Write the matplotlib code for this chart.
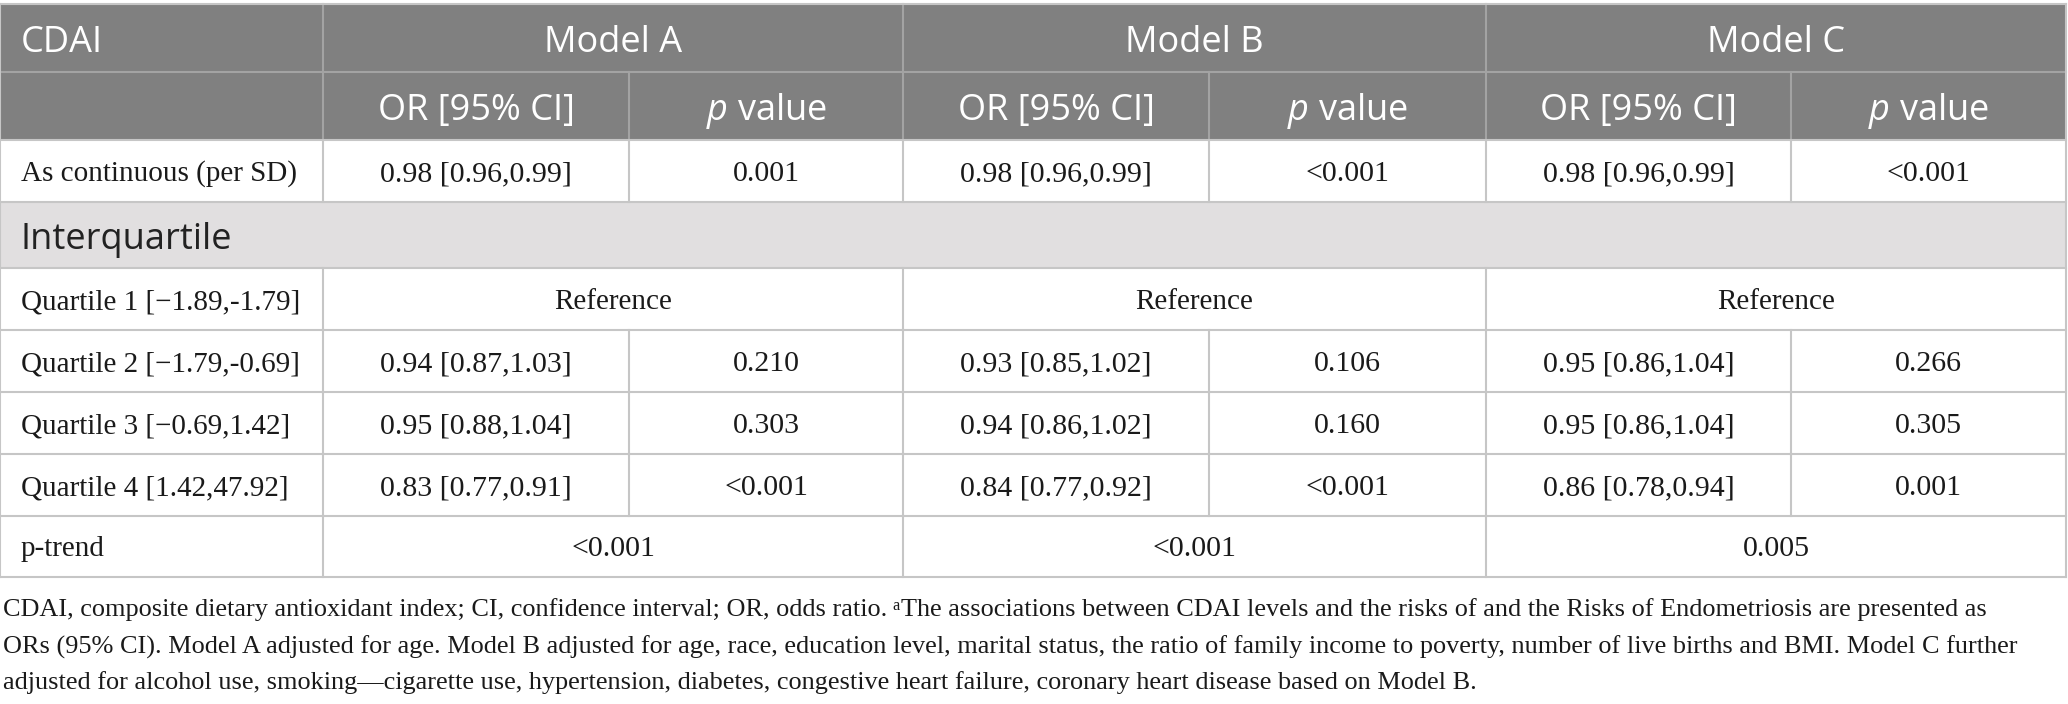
import matplotlib
matplotlib.use("Agg")
import matplotlib.pyplot as plt
from matplotlib.patches import Rectangle

# ---- table content ----
models = ["Model A", "Model B", "Model C"]
row_labels = [
    "As continuous (per SD)",
    "Quartile 1 [\u22121.89,-1.79]",
    "Quartile 2 [\u22121.79,-0.69]",
    "Quartile 3 [\u22120.69,1.42]",
    "Quartile 4 [1.42,47.92]",
]
or_a = ["0.98 [0.96,0.99]", "Reference", "0.94 [0.87,1.03]", "0.95 [0.88,1.04]", "0.83 [0.77,0.91]"]
p_a = ["0.001", None, "0.210", "0.303", "<0.001"]
or_b = ["0.98 [0.96,0.99]", "Reference", "0.93 [0.85,1.02]", "0.94 [0.86,1.02]", "0.84 [0.77,0.92]"]
p_b = ["<0.001", None, "0.106", "0.160", "<0.001"]
or_c = ["0.98 [0.96,0.99]", "Reference", "0.95 [0.86,1.04]", "0.95 [0.86,1.04]", "0.86 [0.78,0.94]"]
p_c = ["<0.001", None, "0.266", "0.305", "0.001"]
trend_label = "p-trend"
p_trend = ["<0.001", "<0.001", "0.005"]
section_label = "Interquartile"

foot1a = "CDAI, composite dietary antioxidant index; CI, confidence interval; OR, odds ratio."
foot1b = "The associations between CDAI levels and the risks of and the Risks of Endometriosis are presented as"
foot2 = ("ORs (95% CI). Model A adjusted for age. Model B adjusted for age, race, education level, marital status, "
         "the ratio of family income to poverty, number of live births and BMI. Model C further")
foot3 = ("adjusted for alcohol use, smoking\u2014cigarette use, hypertension, diabetes, congestive heart failure, "
         "coronary heart disease based on Model B.")

# ---- layout (pixels) ----
W, H = 2068, 704
col_x = [0, 323, 629, 903, 1209, 1486, 1791, 2066]
row_y = [4, 72, 140, 202, 268, 330, 392, 454, 516, 577]
foot_y = [610, 647, 683]

head_bg = "#808080"
head_line = "#a3a3a3"
sect_bg = "#e1dfe0"
grid = "#c6c6c6"
ink = "#1a1a1a"
sans = "Open Sans"
serif = "Liberation Serif"
hs = 26     # header size
ls = 21     # row label size
ns = 21.5   # number size
dy_sans = 5
dy_serif = 3

plt.rcParams["mathtext.fontset"] = "custom"
plt.rcParams["mathtext.rm"] = sans
plt.rcParams["mathtext.it"] = sans + ":italic"

fig = plt.figure(figsize=(W / 100, H / 100), dpi=100)
ax = fig.add_axes([0, 0, 1, 1])
ax.set_xlim(0, W)
ax.set_ylim(H, 0)
ax.axis("off")

lw = 1.5

# header backgrounds
ax.add_patch(Rectangle((0, row_y[0]), col_x[-1], row_y[2] - row_y[0], color=head_bg, lw=0))
ax.add_patch(Rectangle((0, row_y[3]), col_x[-1], row_y[4] - row_y[3], color=sect_bg, lw=0))

# header lines
ax.plot([0, col_x[-1]], [row_y[1], row_y[1]], color=head_line, lw=lw)
for x in [col_x[1], col_x[3], col_x[5]]:
    ax.plot([x, x], [row_y[0], row_y[2]], color=head_line, lw=lw)
for x in [col_x[2], col_x[4], col_x[6]]:
    ax.plot([x, x], [row_y[1], row_y[2]], color=head_line, lw=lw)

# body horizontal lines and border
for y in row_y[2:]:
    ax.plot([0, col_x[-1]], [y, y], color=grid, lw=lw)
ax.plot([0, col_x[-1]], [row_y[0], row_y[0]], color=grid, lw=lw)
ax.plot([0, 0], [row_y[0], row_y[-1]], color=grid, lw=lw)
ax.plot([col_x[-1], col_x[-1]], [row_y[0], row_y[-1]], color=grid, lw=lw)

# body vertical lines
body_rows = [(row_y[2], row_y[3])] + [(row_y[i], row_y[i + 1]) for i in range(4, 9)]
for k, (y0, y1) in enumerate(body_rows):
    spans = k in (1, 5)
    for j in range(1, 7):
        if spans and j in (2, 4, 6):
            continue
        ax.plot([col_x[j], col_x[j]], [y0, y1], color=grid, lw=lw)

def mid(a, b):
    return (a + b) / 2

# header text
yh1 = mid(row_y[0], row_y[1]) + dy_sans
yh2 = mid(row_y[1], row_y[2]) + dy_sans
ax.text(21, yh1, "CDAI", color="white", fontsize=hs, family=sans, ha="left", va="center")
for m, name in enumerate(models):
    ax.text(mid(col_x[1 + 2 * m], col_x[3 + 2 * m]), yh1, name,
            color="white", fontsize=hs, family=sans, ha="center", va="center")
    ax.text(mid(col_x[1 + 2 * m], col_x[2 + 2 * m]), yh2, "OR [95% CI]",
            color="white", fontsize=hs, family=sans, ha="center", va="center")
    ax.text(mid(col_x[2 + 2 * m], col_x[3 + 2 * m]), yh2, "$p$ value",
            color="white", fontsize=hs, family=sans, ha="center", va="center")

ax.text(21, mid(row_y[3], row_y[4]) + dy_sans, section_label, color="#222222", fontsize=hs,
        family=sans, ha="left", va="center")

# body text
cols = [(or_a, p_a), (or_b, p_b), (or_c, p_c)]
for i, label in enumerate(row_labels):
    y0, y1 = body_rows[i]
    yc = mid(y0, y1) + dy_serif
    ax.text(21, yc, label, fontsize=ls, family=serif, color=ink, ha="left", va="center")
    for m, (ors, ps) in enumerate(cols):
        if ps[i] is None:
            ax.text(mid(col_x[1 + 2 * m], col_x[3 + 2 * m]), yc, ors[i], fontsize=ls,
                    family=serif, color=ink, ha="center", va="center")
        else:
            ax.text(mid(col_x[1 + 2 * m], col_x[2 + 2 * m]), yc, ors[i], fontsize=ns,
                    family=serif, color=ink, ha="center", va="center")
            ax.text(mid(col_x[2 + 2 * m], col_x[3 + 2 * m]), yc, ps[i], fontsize=ns,
                    family=serif, color=ink, ha="center", va="center")

y0, y1 = body_rows[5]
yc = mid(y0, y1) + dy_serif
ax.text(21, yc, trend_label, fontsize=ls, family=serif, color=ink, ha="left", va="center")
for m, v in enumerate(p_trend):
    ax.text(mid(col_x[1 + 2 * m], col_x[3 + 2 * m]), yc, v, fontsize=ns, family=serif,
            color=ink, ha="center", va="center")

# footnote, sized so the second line fills its width
fs = 18
t2 = ax.text(3, foot_y[1], foot2, fontsize=fs, family=serif, color=ink, ha="left", va="center")
fig.canvas.draw()
wpx = t2.get_window_extent().width
fs = fs * (2011 / wpx)
t2.set_fontsize(fs)

t1 = ax.text(3, foot_y[0], foot1a, fontsize=fs, family=serif, color=ink, ha="left", va="center")
sup = ax.annotate("a", xy=(1, 0.52), xycoords=t1, xytext=(4, 0), textcoords="offset points",
                  fontsize=fs * 0.62, family=serif, color=ink, ha="left", va="baseline")
ax.annotate(foot1b, xy=(1, 0), xycoords=(sup, t1), xytext=(0.5, 0), textcoords="offset points",
            fontsize=fs, family=serif, color=ink, ha="left", va="bottom")
ax.text(3, foot_y[2], foot3, fontsize=fs, family=serif, color=ink, ha="left", va="center")

fig.savefig("out.png", dpi=100, facecolor="white")
